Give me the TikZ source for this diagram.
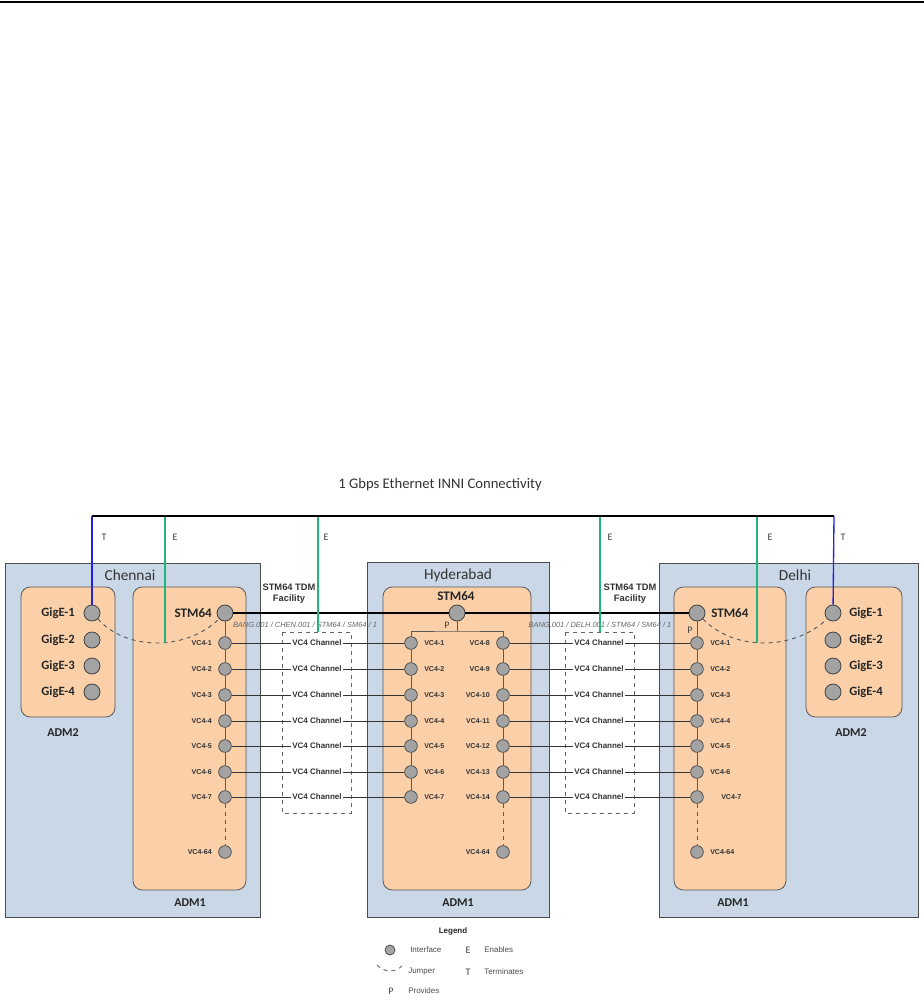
\documentclass[tikz,border=0pt]{standalone}
\usepackage{fontspec}
\setmainfont{Carlito}
\newfontfamily\arialf{Liberation Sans}
\definecolor{boxblue}{HTML}{C9D7E7}
\definecolor{peach}{HTML}{FBD0A9}
\definecolor{ifgray}{HTML}{A3A3A3}
\definecolor{egreen}{HTML}{21B57E}
\definecolor{tblue}{HTML}{2222E0}
\begin{document}
\begin{tikzpicture}[x=0.75pt,y=-0.75pt,
 site/.style={draw=black!70,fill=boxblue,line width=0.7pt},
 adm/.style={draw=black!65,fill=peach,rounded corners=7pt,line width=0.6pt},
 ifbig/.style={circle,draw=black!75,fill=ifgray,minimum size=12pt,inner sep=0pt,line width=0.6pt},
 ifsm/.style={circle,draw=black!75,fill=ifgray,minimum size=9.5pt,inner sep=0pt,line width=0.5pt},
 sitelbl/.style={font=\fontsize{11.5}{13}\selectfont,text=black!80,inner sep=0pt},
 admlbl/.style={font=\fontsize{9}{10}\selectfont\bfseries,text=black!85,inner sep=0pt},
 giglbl/.style={font=\fontsize{9.5}{11}\selectfont\bfseries,text=black!85,inner sep=0pt},
 stmlbl/.style={font=\fontsize{9.8}{11}\selectfont\bfseries,text=black!85,inner sep=0pt},
 vclbl/.style={font=\arialf\fontsize{5.3}{6}\selectfont\bfseries,text=black!80,inner sep=0pt},
 chlbl/.style={font=\arialf\fontsize{6}{7}\selectfont\bfseries,text=black!80,fill=white,inner sep=0.8pt},
 faclbl/.style={font=\arialf\fontsize{7}{8.5}\selectfont\bfseries,text=black!80,align=center,inner sep=0pt},
 pathlbl/.style={font=\arialf\fontsize{5.6}{6}\selectfont\itshape,text=black!60,inner sep=0pt},
 rellbl/.style={font=\fontsize{7.5}{8}\selectfont,text=black!75,inner sep=0pt},
 leglbl/.style={font=\arialf\fontsize{6}{7}\selectfont,text=black!70,inner sep=0pt},
 chan/.style={draw=black!80,line width=0.6pt},
 chainln/.style={draw=black!65,line width=0.65pt},
 stmln/.style={draw=black,line width=1.8pt},
 busln/.style={draw=black,line width=1.8pt},
 tln/.style={draw=tblue,line width=1pt},
 eln/.style={draw=egreen,line width=1pt},
 jumper/.style={draw=black!65,dashed,line width=0.7pt},
 facbox/.style={draw=black!60,dashed,line width=0.7pt}
]
\useasboundingbox (0,0) rectangle (924,1000);
\draw[line width=1.5pt] (0,2) -- (924,2);

% title
\node[font=\fontsize{11}{12}\selectfont,text=black!80] (title) at (440,485) {1 Gbps Ethernet INNI Connectivity};

% site boxes
\draw[site] (5,563) rectangle (260,917);
\draw[site] (367,562) rectangle (549,917);
\draw[site] (659,563) rectangle (918,917);
\node[sitelbl] (chennai) at (130,575) {Chennai};
\node[sitelbl] (hyd) at (458,575) {Hyderabad};
\node[sitelbl] (delhi) at (795,575) {Delhi};

% ADM boxes
\draw[adm] (21,587) rectangle (115,717);
\draw[adm] (133,587) rectangle (246,890);
\draw[adm] (383,587) rectangle (531,890);
\draw[adm] (674,587) rectangle (786,890);
\draw[adm] (806,587) rectangle (902,717);
\node[admlbl] (cadm2) at (63,733) {ADM2};
\node[admlbl] (cadm1) at (190,903) {ADM1};
\node[admlbl] (hadm1) at (458,903) {ADM1};
\node[admlbl] (dadm1) at (733,903) {ADM1};
\node[admlbl] (dadm2) at (851,733) {ADM2};

% facility dashed boxes
\draw[facbox] (282,632) rectangle (351,813);
\draw[facbox] (565,632) rectangle (634,813);
\node[faclbl] (fac1) at (289,594) {STM64 TDM\\Facility};
\node[faclbl] (fac2) at (630,594) {STM64 TDM\\Facility};

% GigE interfaces
\foreach \i/\y in {1/613,2/640,3/666,4/692} {
  \node[ifbig] (cg\i) at (92,\y) {};
  \node[giglbl,anchor=east] (cgl\i) at (75,\y) {GigE-\i};
  \node[ifbig] (dg\i) at (833,\y) {};
  \node[giglbl,anchor=west] (dgl\i) at (849,\y) {GigE-\i};
}

% STM64 interfaces
\node[ifbig] (cstm) at (225,613) {};
\node[stmlbl,anchor=east] (cstml) at (212,613) {STM64};
\node[ifbig] (hstm) at (457,613) {};
\node[stmlbl] (hstml) at (456,596) {STM64};
\node[ifbig] (dstm) at (697,613) {};
\node[stmlbl,anchor=west] (dstml) at (711,613) {STM64};

% VC4 interfaces
\foreach \i/\y in {1/643,2/669,3/695,4/721,5/746,6/772,7/797} {
  \node[ifsm] (cv\i) at (225,\y) {};
  \node[vclbl,anchor=east] (cvl\i) at (212,\y) {VC4-\i};
  \node[ifsm] (hl\i) at (411,\y) {};
  \node[vclbl,anchor=west] (hll\i) at (424,\y) {VC4-\i};
  \node[ifsm] (dv\i) at (697,\y) {};
}
\foreach \i/\y in {1/643,2/669,3/695,4/721,5/746,6/772} {
  \node[vclbl,anchor=west] (dvl\i) at (710,\y) {VC4-\i};
}
\node[vclbl,anchor=west] (dvl7) at (721,797) {VC4-7};
\foreach \i/\y in {8/643,9/669,10/695,11/721,12/746,13/772,14/797} {
  \node[ifsm] (hr\i) at (503,\y) {};
  \node[vclbl,anchor=east] (hrl\i) at (490,\y) {VC4-\i};
}
\node[ifsm] (cv64) at (225,852) {};
\node[vclbl,anchor=east] (cvl64) at (212,852) {VC4-64};
\node[ifsm] (hr64) at (503,852) {};
\node[vclbl,anchor=east] (hrl64) at (490,852) {VC4-64};
\node[ifsm] (dv64) at (697,852) {};
\node[vclbl,anchor=west] (dvl64) at (710,852) {VC4-64};

% chains
\draw[chainln] (cstm) -- (cv1) -- (cv2) -- (cv3) -- (cv4) -- (cv5) -- (cv6) -- (cv7);
\draw[chainln,dashed] (cv7) -- (cv64);
\draw[chainln] (dstm) -- (dv1) -- (dv2) -- (dv3) -- (dv4) -- (dv5) -- (dv6) -- (dv7);
\draw[chainln,dashed] (dv7) -- (dv64);
\coordinate (hbr) at (457,631);
\draw[chainln] (hstm) -- (hbr);
\draw[chainln] (hl1) |- (hbr) -| (hr8);
\draw[chainln] (hl1) -- (hl2) -- (hl3) -- (hl4) -- (hl5) -- (hl6) -- (hl7);
\draw[chainln] (hr8) -- (hr9) -- (hr10) -- (hr11) -- (hr12) -- (hr13) -- (hr14);
\draw[chainln,dashed] (hr14) -- (hr64);
\node[rellbl] (hp) at (447,625) {P};
\node[rellbl] (dp) at (690,630) {P};

% channels
\foreach \i/\j/\y in {1/8/643,2/9/669,3/10/695,4/11/721,5/12/746,6/13/772,7/14/797} {
  \draw[chan] (cv\i) -- (hl\i);
  \draw[chan] (hr\j) -- (dv\i);
  \node[chlbl] (lch\i) at (317,\y) {VC4 Channel};
  \node[chlbl] (rch\i) at (599,\y) {VC4 Channel};
}

% STM64 facility
\draw[stmln] (cstm) -- (hstm) -- (dstm);
\node[pathlbl] (p1) at (305,625) {BANG.001 / CHEN.001 / STM64 / SM64 / 1};
\node[pathlbl] (p2) at (600,625) {BANG.001 / DELH.001 / STM64 / SM64 / 1};

% jumpers
\draw[jumper] (cg1.south east) .. controls (125,650) and (185,652) .. (cstm.south west);
\draw[jumper] (dstm.south east) .. controls (735,652) and (795,650) .. (dg1.south west);

% top bus
\coordinate (bl) at (92,516);
\coordinate (br) at (834,516);
\coordinate (e1) at (165,516);
\coordinate (e1b) at (165,643);
\coordinate (e2) at (318,516);
\coordinate (e2b) at (318,632);
\coordinate (e3) at (600,516);
\coordinate (e3b) at (600,632);
\coordinate (e4) at (757,516);
\coordinate (e4b) at (757,643);
\draw[tln] (bl) -- (cg1);
\draw[tln] (br) -- (dg1);
\draw[eln] (e1) -- (e1b);
\draw[eln] (e2) -- (e2b);
\draw[eln] (e3) -- (e3b);
\draw[eln] (e4) -- (e4b);
\draw[busln] (bl) -- (br);
\node[rellbl] (t1) at (104,537) {T};
\node[rellbl] (ee1) at (175,537) {E};
\node[rellbl] (ee2) at (326,537) {E};
\node[rellbl] (ee3) at (610,537) {E};
\node[rellbl] (ee4) at (770,537) {E};
\node[rellbl] (t2) at (843,537) {T};

% legend
\node[leglbl,font=\arialf\fontsize{6}{7}\selectfont\bfseries,text=black!85] (leg) at (453,931) {Legend};
\node[ifsm,minimum size=7.5pt] (legif) at (390,950) {};
\node[leglbl,anchor=west] (legift) at (410,950) {Interface};
\node[rellbl] (lege) at (468,950) {E};
\node[leglbl,anchor=west] (leget) at (484,950) {Enables};
\coordinate (lj1) at (377,965);
\coordinate (lj2) at (403,965);
\draw[jumper,line width=0.6pt] (lj1) .. controls (385,973) and (395,973) .. (lj2);
\node[leglbl,anchor=west] (legjt) at (408,972) {Jumper};
\node[rellbl] (legt) at (468,972) {T};
\node[leglbl,anchor=west] (legtt) at (484,972) {Terminates};
\node[rellbl] (legp) at (391,991) {P};
\node[leglbl,anchor=west] (legpt) at (408,991) {Provides};
\end{tikzpicture}
\end{document}
